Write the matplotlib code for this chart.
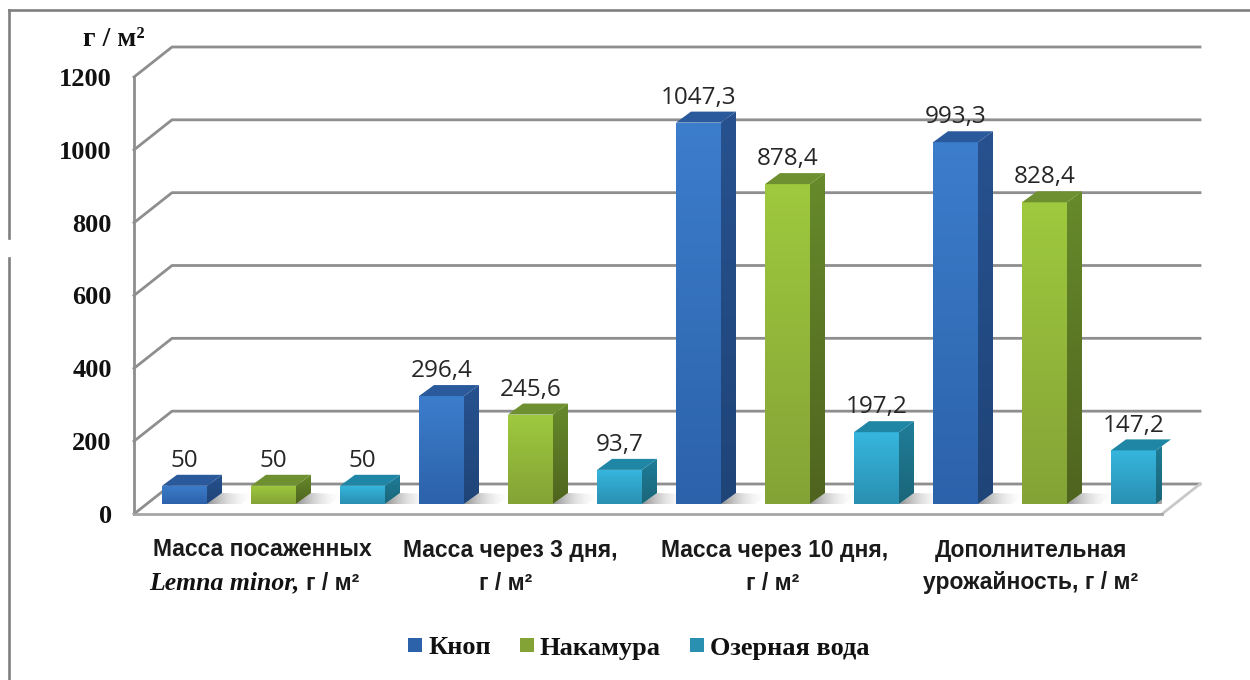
import numpy as np
import matplotlib
matplotlib.use("Agg")
import matplotlib.pyplot as plt
from matplotlib.colors import to_rgb
from matplotlib.lines import Line2D
from matplotlib.patches import Polygon

# ---- data ----
series_names = ["Кноп", "Накамура", "Озерная вода"]
knop = [50, 296.4, 1047.3, 993.3]
nakamura = [50, 245.6, 878.4, 828.4]
lake = [50, 93.7, 197.2, 147.2]
value_labels = [["50", "296,4", "1047,3", "993,3"],
                ["50", "245,6", "878,4", "828,4"],
                ["50", "93,7", "197,2", "147,2"]]
y_ticks = [0, 200, 400, 600, 800, 1000, 1200]
cat_line1 = ["Масса посаженных", "Масса через 3 дня,", "Масса через 10 дня,", "Дополнительная"]
cat_line2 = ["", "г / м²", "г / м²", "урожайность, г / м²"]

# ---- style ----
W, H = 1250, 680
L, R, B, T = 134, 1162, 514, 77
PX_X = (R - L) / 4.0
PX_Y = (B - T) / 1200.0
DX, DY = 15 / PX_X, 11 / PX_Y        # bar depth
WX, WY = 38 / PX_X, 30 / PX_Y        # wall depth
LIFT = 10 / PX_Y                     # bar base above the front edge
BAR_W = 45 / PX_X
STEP = 89 / PX_X
SHIFT = 11 / PX_X
GRID = "#8e8e8e"
faces = [
    dict(top="#3c7dcc", bot="#2c62aa", s1="#27528f", s2="#1f4478", lid="#2a5a9c"),
    dict(top="#9fc93e", bot="#84a336", s1="#678a2b", s2="#4f641f", lid="#6f9030"),
    dict(top="#36b6de", bot="#2a90b2", s1="#1f7d99", s2="#1b6679", lid="#1f86a6"),
]

fig = plt.figure(figsize=(W / 100, H / 100), dpi=100, facecolor="white")
ax = fig.add_axes([L / W, 1 - B / H, (R - L) / W, (B - T) / H])
ax.patch.set_visible(False)


def grad(verts, c1, c2, vertical=True, alpha=(1, 1), z=3):
    """Fill a polygon with a linear gradient."""
    v = np.array(verts)
    n = 64
    t = np.linspace(0, 1, n)
    a, b = np.array(to_rgb(c1)), np.array(to_rgb(c2))
    rgb = a[None, :] * (1 - t[:, None]) + b[None, :] * t[:, None]
    al = alpha[0] * (1 - t) + alpha[1] * t
    img = np.column_stack([rgb, al])
    img = img[:, None, :] if vertical else img[None, :, :]
    poly = Polygon(v, closed=True, fc="none", ec="none", zorder=z, clip_on=False)
    ax.add_patch(poly)
    im = ax.imshow(img, extent=(v[:, 0].min(), v[:, 0].max(), v[:, 1].min(), v[:, 1].max()),
                   origin="upper", aspect="auto", zorder=z, interpolation="bilinear")
    im.set_clip_path(poly)


# walls
x0 = -0.5
x1 = 3.5
for t in y_ticks[1:]:
    ax.plot([x0, x0 + WX, x1 + WX], [t, t + WY, t + WY], color=GRID, lw=2.0, zorder=1,
            clip_on=False, solid_joinstyle="round")
floor = Polygon([(x0, 0), (x0 + WX, WY), (x1 + WX, WY), (x1, 0)], closed=True, fc="white",
                ec="none", zorder=1.2, clip_on=False)
ax.add_patch(floor)
ax.plot([x0, x0 + WX, x1 + WX], [0, WY, WY], color=GRID, lw=2.0, zorder=1.3, clip_on=False)
ax.plot([x1 + WX, x1], [WY, 0], color="#c8c8c8", lw=2.0, zorder=1.3, clip_on=False)

# bars
for s, (vals, name) in enumerate(zip([knop, nakamura, lake], series_names)):
    f = faces[s]
    xs = np.arange(4) + SHIFT + (s - 1) * STEP
    bars = ax.bar(xs, vals, BAR_W, bottom=LIFT, color=f["bot"], label=name, zorder=3, clip_on=False)
    for xc, v, lab in zip(xs, vals, value_labels[s]):
        xl, xr = xc - BAR_W / 2, xc + BAR_W / 2
        y0, y1 = LIFT, LIFT + v
        # floor shadow
        grad([(xr, y0), (xr + 34 / PX_X, y0), (xr + 34 / PX_X + DX * .9, y0 + DY * .9), (xr + DX, y0 + DY)],
             "#8a8a8a", "#ffffff", vertical=False, alpha=(0.95, 0), z=2)
        # front
        grad([(xl, y0), (xr, y0), (xr, y1), (xl, y1)], f["top"], f["bot"], z=3.1)
        # side
        grad([(xr, y0), (xr + DX, y0 + DY), (xr + DX, y1 + DY), (xr, y1)], f["s1"], f["s2"], z=3.1)
        # lid
        ax.add_patch(Polygon([(xl, y1), (xl + DX, y1 + DY), (xr + DX, y1 + DY), (xr, y1)], closed=True,
                             fc=f["lid"], ec="none", zorder=3.1, clip_on=False))
        ax.annotate(lab, (xc, y1 + DY), xytext=(0, 10), textcoords="offset points",
                    ha="center", va="center", family="Open Sans", fontsize=17.5, color="#262626", zorder=6)

ax.set_xlim(x0, x1)
ax.set_ylim(0, 1200)

# axes
for k in ("top", "right"):
    ax.spines[k].set_visible(False)
ax.spines["left"].set_color(GRID)
ax.spines["left"].set_linewidth(2.0)
ax.spines["bottom"].set_color("#a6a6a6")
ax.spines["bottom"].set_linewidth(2.0)
for k in ("left", "bottom"):
    ax.spines[k].set_zorder(4)
ax.set_yticks(y_ticks)
ax.set_yticklabels([str(t) for t in y_ticks], family="Liberation Serif", fontweight="bold",
                   fontsize=19, color="#111111")
ax.tick_params(axis="y", length=0, pad=16)
ax.set_xticks(range(4))
ax.set_xticklabels([""] * 4)
ax.tick_params(axis="x", length=0)

# category labels
px_to_dx = lambda p: (p - L) / PX_X + x0
py_to_y = lambda p: (B - p) / PX_Y
sans = dict(family="Liberation Sans", fontweight="bold", fontsize=16.5, color="#1a1a1a", ha="center", va="center", clip_on=False)
line1_x = [262, 510, 775, 1031]
line2_x = [262, 506, 773, 1031]
for i in range(4):
    ax.text(px_to_dx(line1_x[i]), py_to_y(550), cat_line1[i], **sans)
    if cat_line2[i]:
        ax.text(px_to_dx(line2_x[i]), py_to_y(583), cat_line2[i], **sans)
ax.text(px_to_dx(300), py_to_y(583), "Lemna minor,", family="Liberation Serif", style="italic", fontweight="bold",
        fontsize=18.5, color="#111111", ha="right", va="center")
ax.text(px_to_dx(306), py_to_y(583), "г / м²", family="Liberation Sans", fontweight="bold", fontsize=16.5,
        color="#1a1a1a", ha="left", va="center")

# unit
ax.text(px_to_dx(114), py_to_y(40), "г / м²", family="Liberation Serif", fontweight="bold", fontsize=20,
        color="#111111", ha="center", va="center", clip_on=False)

# legend
leg = ax.legend(loc="center left", bbox_to_anchor=((408 - L) / (R - L), (B - 648) / (B - T)), ncol=3, frameon=False,
                prop=dict(family="Liberation Serif", weight="bold", size=19), handlelength=0.53, handleheight=0.45,
                handletextpad=0.23, columnspacing=1.1, borderaxespad=0, borderpad=0)
for t in leg.get_texts():
    t.set_color("#111111")

# picture frame
for xs_, ys_ in [([9, 9], [238, 10]), ([9, 1250], [10, 10]), ([9, 9], [258, 680])]:
    fig.add_artist(Line2D([p / W for p in xs_], [1 - p / H for p in ys_], color="#7f7f7f", lw=1.9))

fig.savefig("out.png", dpi=100)
